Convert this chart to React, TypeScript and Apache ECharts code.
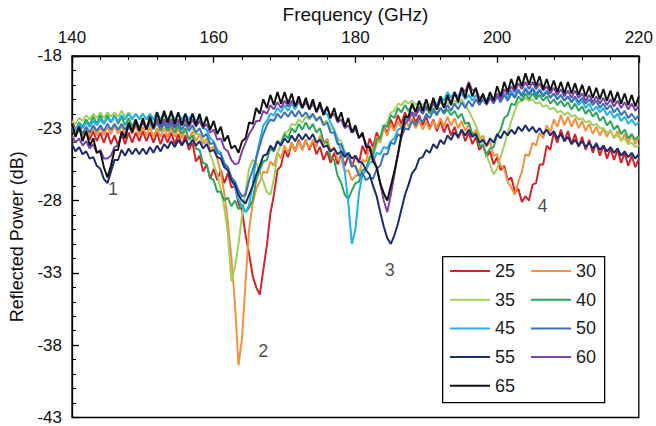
import React, { useEffect, useRef } from "react";
import * as echarts from "echarts";

// Sampling grid of the measured spectra (GHz)
const FREQ_START = 140;
const FREQ_STEP = 0.5;

// Reflected power (dB), one value per 0.5 GHz from 140 to 220 GHz
const S25 = [
  -22.4,-23.2,-22.7,-23.5,-23.0,-23.8,-23.2,-23.9,-23.3,-24.0,-23.3,-24.1,-23.5,-24.2,-23.4,-24.1,-23.3,-24.0,-23.3,-23.9,
  -23.2,-23.9,-23.3,-24.0,-23.3,-24.1,-23.4,-24.0,-23.3,-24.1,-23.4,-24.2,-23.5,-24.5,-24.0,-25.3,-24.9,-26.0,-25.5,-26.5,
  -25.8,-26.6,-25.9,-26.8,-26.1,-27.1,-27.0,-28.2,-28.7,-30.4,-31.7,-33.2,-34.0,-34.5,-32.8,-31.1,-28.9,-27.6,-25.9,-25.6,
  -24.5,-25.0,-24.0,-24.6,-23.8,-24.5,-23.8,-24.5,-23.9,-24.8,-24.3,-25.2,-24.6,-25.4,-24.7,-25.5,-24.8,-25.6,-24.9,-25.7,
  -24.9,-25.4,-24.2,-24.8,-23.7,-24.3,-23.3,-23.8,-22.8,-23.4,-22.4,-23.0,-22.1,-22.7,-21.9,-22.5,-21.9,-22.6,-22.1,-22.8,
  -22.2,-23.0,-22.4,-23.2,-22.5,-23.3,-22.7,-23.5,-22.9,-23.7,-23.1,-23.9,-23.3,-24.1,-23.6,-24.5,-24.1,-25.0,-24.6,-25.5,
  -25.0,-25.9,-25.6,-26.6,-26.4,-27.4,-27.2,-28.1,-27.7,-28.0,-26.9,-26.8,-25.5,-25.5,-24.2,-24.5,-23.3,-24.0,-23.1,-23.9,
  -23.2,-24.1,-23.4,-24.3,-23.6,-24.5,-23.8,-24.7,-24.0,-24.9,-24.2,-25.1,-24.4,-25.2,-24.5,-25.4,-24.7,-25.6,-24.9,-25.7,-25.1,
];
const S30 = [
  -22.9,-23.5,-23.0,-23.6,-23.0,-23.5,-22.9,-23.5,-22.9,-23.5,-22.9,-23.4,-22.8,-23.4,-22.8,-23.4,-22.8,-23.4,-22.8,-23.5,
  -22.9,-23.5,-22.9,-23.6,-23.0,-23.6,-23.0,-23.6,-23.0,-23.6,-23.0,-23.7,-23.1,-23.8,-23.2,-23.9,-23.4,-24.1,-23.7,-24.4,
  -24.3,-25.1,-26.1,-27.5,-29.5,-32.0,-35.1,-39.4,-37.5,-33.6,-30.0,-28.2,-27.2,-26.7,-26.0,-26.1,-25.3,-25.6,-24.7,-25.1,
  -24.2,-24.7,-24.0,-24.6,-23.9,-24.5,-23.8,-24.4,-23.8,-24.3,-23.5,-24.2,-23.7,-24.6,-24.3,-25.2,-25.1,-26.0,-25.9,-26.6,
  -26.3,-26.2,-25.2,-25.3,-24.2,-24.6,-23.6,-24.0,-23.0,-23.5,-22.7,-23.2,-22.5,-23.0,-22.3,-22.9,-22.3,-23.0,-22.5,-23.1,
  -22.6,-23.1,-22.5,-23.0,-22.3,-22.9,-22.2,-22.8,-22.3,-23.0,-22.5,-23.2,-22.7,-23.5,-23.1,-23.9,-23.5,-24.3,-23.9,-24.9,
  -24.8,-25.6,-25.8,-26.7,-27.1,-27.6,-26.7,-26.0,-24.8,-24.9,-24.0,-24.2,-23.3,-23.7,-22.8,-23.3,-22.4,-22.9,-22.1,-22.8,
  -22.2,-22.9,-22.3,-23.0,-22.5,-23.2,-22.7,-23.4,-22.9,-23.5,-23.0,-23.6,-23.1,-23.7,-23.2,-23.9,-23.4,-24.0,-23.5,-24.1,-23.6,
];
const S35 = [
  -22.5,-22.7,-22.3,-22.5,-22.1,-22.4,-22.0,-22.3,-21.9,-22.3,-21.9,-22.2,-21.9,-22.2,-21.8,-22.2,-21.9,-22.3,-22.0,-22.3,
  -22.0,-22.4,-22.1,-22.5,-22.2,-22.5,-22.2,-22.6,-22.3,-22.7,-22.4,-22.8,-22.6,-23.0,-23.0,-23.4,-23.4,-23.8,-24.0,-24.8,
  -25.5,-26.2,-27.2,-28.5,-30.3,-33.6,-32.6,-31.0,-29.0,-27.3,-25.8,-25.2,-25.4,-26.0,-26.7,-27.4,-27.6,-26.5,-24.8,-24.0,
  -23.3,-23.2,-22.7,-22.8,-22.4,-22.6,-22.2,-22.4,-22.1,-22.4,-22.2,-22.6,-22.5,-23.0,-23.1,-23.7,-23.9,-24.6,-24.9,-25.5,
  -25.7,-26.0,-25.9,-25.8,-25.2,-24.9,-24.1,-23.7,-22.9,-22.6,-21.9,-21.8,-21.3,-21.4,-21.1,-21.3,-21.1,-21.4,-21.2,-21.4,
  -21.2,-21.4,-21.2,-21.4,-21.2,-21.5,-21.2,-21.4,-21.1,-21.3,-21.0,-21.4,-21.8,-22.3,-22.8,-23.5,-24.2,-24.9,-25.5,-26.2,
  -25.8,-25.0,-24.2,-23.3,-22.5,-21.8,-21.2,-21.1,-20.9,-21.1,-21.0,-21.3,-21.2,-21.5,-21.4,-21.7,-21.6,-21.9,-21.8,-22.1,
  -21.9,-22.2,-22.1,-22.4,-22.3,-22.6,-22.5,-22.8,-22.7,-23.0,-23.0,-23.3,-23.2,-23.6,-23.5,-23.8,-23.7,-24.1,-24.0,-24.3,-24.2,
];
const S40 = [
  -22.8,-23.1,-22.6,-22.9,-22.4,-22.8,-22.2,-22.7,-22.1,-22.7,-22.1,-22.6,-22.1,-22.7,-22.2,-22.8,-22.3,-22.9,-22.4,-23.0,
  -22.5,-23.1,-22.6,-23.1,-22.6,-23.2,-22.7,-23.2,-22.8,-23.3,-22.8,-23.4,-23.0,-23.8,-23.5,-24.4,-24.5,-25.4,-25.5,-26.4,
  -26.6,-27.4,-27.4,-28.0,-27.8,-28.4,-28.0,-28.6,-28.3,-28.8,-28.5,-28.0,-26.6,-25.9,-25.3,-25.2,-24.4,-24.6,-23.9,-24.1,
  -23.4,-23.7,-23.0,-23.3,-22.7,-23.1,-22.6,-23.1,-22.7,-23.3,-23.0,-23.9,-24.0,-25.0,-25.2,-26.3,-26.8,-27.6,-27.9,-27.3,
  -26.8,-26.7,-25.9,-25.8,-25.0,-24.8,-23.8,-23.7,-22.8,-22.9,-22.1,-22.3,-21.6,-21.9,-21.4,-21.8,-21.4,-21.8,-21.5,-21.9,
  -21.6,-22.0,-21.6,-22.0,-21.6,-22.0,-21.7,-22.1,-21.8,-22.3,-22.0,-22.7,-22.6,-23.4,-23.4,-24.2,-24.2,-24.8,-24.4,-24.3,
  -23.5,-23.1,-22.3,-22.1,-21.3,-21.4,-20.8,-21.1,-20.6,-21.0,-20.6,-21.0,-20.7,-21.1,-20.8,-21.3,-21.0,-21.4,-21.1,-21.5,
  -21.2,-21.7,-21.3,-21.8,-21.5,-22.0,-21.7,-22.2,-21.9,-22.5,-22.2,-22.8,-22.5,-23.1,-22.8,-23.4,-23.1,-23.7,-23.4,-23.8,-23.5,
];
const S45 = [
  -22.8,-23.1,-22.7,-23.0,-22.6,-22.9,-22.5,-22.8,-22.4,-22.7,-22.3,-22.6,-22.2,-22.5,-22.1,-22.4,-22.0,-22.4,-22.0,-22.4,
  -22.0,-22.4,-22.0,-22.4,-21.9,-22.4,-22.0,-22.4,-22.0,-22.4,-22.0,-22.4,-22.0,-22.4,-22.0,-22.5,-22.3,-23.0,-23.1,-23.7,
  -23.9,-24.5,-24.7,-25.4,-25.7,-26.6,-27.1,-27.9,-28.4,-28.8,-28.3,-26.9,-25.0,-23.9,-22.8,-22.5,-22.0,-22.1,-21.6,-21.9,
  -21.4,-21.8,-21.3,-21.7,-21.2,-21.6,-21.2,-21.6,-21.3,-21.8,-21.5,-22.0,-22.0,-22.6,-23.1,-23.9,-24.6,-26.0,-28.2,-31.0,
  -30.0,-27.5,-26.2,-25.9,-25.4,-25.3,-24.7,-24.8,-24.3,-24.4,-23.9,-23.7,-23.1,-23.0,-22.4,-22.4,-21.9,-22.2,-21.7,-22.0,
  -21.4,-21.7,-21.1,-21.4,-20.8,-21.1,-20.5,-20.9,-20.5,-20.9,-20.6,-21.0,-20.7,-21.1,-20.7,-21.1,-20.7,-21.1,-20.7,-21.1,
  -20.7,-21.0,-20.6,-20.9,-20.4,-20.8,-20.3,-20.7,-20.2,-20.6,-20.2,-20.6,-20.3,-20.7,-20.4,-20.9,-20.6,-21.0,-20.7,-21.1,
  -20.8,-21.2,-20.9,-21.4,-21.1,-21.6,-21.3,-21.8,-21.5,-21.9,-21.6,-22.1,-21.8,-22.3,-22.0,-22.5,-22.2,-22.7,-22.4,-22.8,-22.6,
];
const S50 = [
  -23.1,-23.5,-23.0,-23.4,-22.9,-23.3,-22.8,-23.2,-22.8,-23.2,-22.7,-23.1,-22.7,-23.1,-22.7,-23.1,-22.7,-23.1,-22.6,-23.0,
  -22.6,-23.0,-22.6,-23.0,-22.6,-23.0,-22.6,-23.0,-22.6,-23.0,-22.6,-23.1,-22.7,-23.2,-22.8,-23.3,-23.0,-23.6,-23.4,-24.1,
  -24.0,-24.7,-24.8,-25.5,-25.7,-26.4,-26.7,-27.3,-27.7,-27.6,-26.6,-25.9,-25.1,-24.2,-23.4,-22.8,-22.4,-22.5,-22.0,-22.3,
  -21.9,-22.2,-21.8,-22.2,-21.8,-22.2,-21.9,-22.3,-22.0,-22.5,-22.2,-22.8,-22.6,-23.3,-23.3,-24.1,-24.1,-24.8,-24.8,-25.6,
  -25.6,-26.3,-26.1,-26.6,-26.4,-26.5,-25.8,-25.6,-24.8,-24.8,-24.0,-24.1,-23.4,-23.6,-23.0,-23.1,-22.5,-22.8,-22.3,-22.6,
  -22.0,-22.3,-21.8,-22.1,-21.6,-21.9,-21.4,-21.8,-21.3,-21.7,-21.2,-21.6,-21.1,-21.5,-21.0,-21.4,-21.0,-21.4,-20.9,-21.3,
  -20.8,-21.2,-20.7,-21.1,-20.6,-20.9,-20.4,-20.8,-20.3,-20.7,-20.3,-20.8,-20.4,-20.8,-20.5,-20.9,-20.6,-21.0,-20.7,-21.1,
  -20.8,-21.2,-20.8,-21.2,-20.9,-21.3,-21.0,-21.4,-21.1,-21.6,-21.3,-21.7,-21.4,-21.9,-21.6,-22.1,-21.8,-22.3,-22.0,-22.4,-22.1,
];
const S55 = [
  -24.1,-24.6,-24.3,-24.8,-24.6,-25.1,-25.0,-25.6,-25.8,-26.5,-26.8,-26.0,-25.2,-25.2,-24.5,-24.9,-24.4,-24.8,-24.4,-24.8,
  -24.4,-24.8,-24.3,-24.7,-24.2,-24.6,-24.1,-24.4,-23.9,-24.3,-23.8,-24.2,-23.8,-24.2,-23.8,-24.2,-23.9,-24.4,-24.1,-24.6,
  -24.5,-25.0,-25.1,-25.7,-25.9,-26.6,-26.9,-27.6,-28.0,-28.2,-27.6,-27.0,-26.2,-25.6,-24.9,-24.8,-24.2,-24.5,-23.9,-24.2,
  -23.7,-24.0,-23.5,-23.9,-23.4,-23.8,-23.4,-23.8,-23.4,-24.0,-23.8,-24.3,-24.2,-24.6,-24.4,-24.8,-24.6,-25.0,-24.7,-25.1,
  -24.9,-25.3,-25.4,-25.9,-26.2,-27.0,-27.7,-28.8,-29.8,-30.6,-31.0,-30.4,-29.6,-28.6,-27.6,-26.9,-26.1,-25.8,-25.1,-25.0,
  -24.5,-24.7,-24.1,-24.4,-23.8,-24.1,-23.5,-23.8,-23.3,-23.6,-23.1,-23.5,-23.1,-23.6,-23.4,-24.0,-23.8,-24.2,-23.7,-24.0,
  -23.4,-23.7,-23.2,-23.5,-23.1,-23.4,-22.9,-23.2,-22.8,-23.2,-22.9,-23.3,-23.0,-23.4,-23.1,-23.5,-23.2,-23.7,-23.4,-23.9,
  -23.6,-24.1,-23.8,-24.2,-23.9,-24.3,-24.0,-24.4,-24.1,-24.5,-24.2,-24.6,-24.3,-24.7,-24.4,-24.9,-24.6,-25.0,-24.7,-25.1,-24.8,
];
const S60 = [
  -23.5,-24.0,-23.7,-24.2,-23.9,-24.4,-24.1,-24.7,-24.5,-25.1,-25.1,-24.9,-24.3,-24.2,-23.4,-23.5,-22.9,-23.2,-22.7,-23.1,
  -22.6,-23.0,-22.5,-22.9,-22.4,-22.9,-22.4,-22.8,-22.4,-22.9,-22.4,-22.8,-22.4,-22.9,-22.4,-22.9,-22.5,-23.0,-22.7,-23.3,
  -23.1,-23.8,-23.7,-24.4,-24.6,-25.2,-25.5,-25.4,-24.6,-24.0,-23.4,-23.0,-22.5,-22.5,-21.8,-22.0,-21.4,-21.7,-21.2,-21.6,
  -21.1,-21.5,-21.1,-21.5,-21.1,-21.6,-21.2,-21.7,-21.3,-21.8,-21.4,-21.9,-21.6,-22.2,-22.0,-22.6,-22.4,-23.0,-22.8,-23.3,
  -23.1,-23.6,-23.5,-24.1,-24.3,-25.0,-25.7,-26.8,-28.0,-28.8,-27.6,-26.2,-24.8,-23.6,-22.7,-22.4,-21.9,-22.1,-21.6,-22.0,
  -21.5,-21.8,-21.3,-21.7,-21.1,-21.5,-20.9,-21.2,-20.6,-20.9,-20.2,-20.5,-19.8,-20.4,-20.3,-20.9,-20.8,-21.3,-20.9,-21.2,
  -20.6,-21.0,-20.3,-20.7,-20.1,-20.5,-19.9,-20.3,-19.8,-20.3,-19.8,-20.3,-19.9,-20.4,-20.1,-20.6,-20.2,-20.7,-20.3,-20.8,
  -20.4,-20.9,-20.4,-20.9,-20.6,-21.1,-20.7,-21.2,-20.8,-21.3,-20.9,-21.4,-21.0,-21.5,-21.1,-21.6,-21.2,-21.7,-21.3,-21.8,-21.4,
];
const S65 = [
  -22.7,-23.6,-22.9,-23.9,-23.2,-24.2,-23.7,-24.7,-24.6,-25.7,-26.4,-25.6,-24.5,-24.5,-23.2,-23.7,-22.6,-23.3,-22.4,-23.2,
  -22.3,-23.1,-22.2,-23.0,-21.9,-22.7,-21.8,-22.6,-21.8,-22.7,-21.9,-22.8,-22.0,-22.8,-22.0,-22.8,-22.0,-22.9,-22.2,-23.1,
  -22.5,-23.4,-22.9,-23.9,-23.5,-24.4,-24.2,-24.7,-23.9,-23.7,-22.6,-22.7,-21.6,-22.0,-21.0,-21.6,-20.7,-21.4,-20.5,-21.3,
  -20.5,-21.3,-20.6,-21.5,-20.8,-21.6,-20.9,-21.7,-21.0,-21.9,-21.2,-22.1,-21.5,-22.3,-21.6,-22.5,-21.9,-22.9,-22.3,-23.3,
  -22.8,-23.7,-23.3,-24.3,-24.3,-25.3,-25.7,-26.8,-27.5,-28.0,-27.0,-26.0,-24.8,-23.4,-22.2,-22.2,-21.3,-21.9,-21.1,-21.8,
  -21.0,-21.8,-20.9,-21.7,-20.8,-21.6,-20.7,-21.4,-20.5,-21.2,-20.2,-20.9,-19.9,-20.8,-20.2,-21.2,-20.6,-21.3,-20.5,-21.1,
  -20.1,-20.8,-19.8,-20.5,-19.6,-20.3,-19.4,-20.1,-19.2,-20.0,-19.2,-20.1,-19.4,-20.3,-19.6,-20.4,-19.7,-20.5,-19.8,-20.6,
  -19.8,-20.6,-19.9,-20.7,-20.0,-20.8,-20.1,-20.9,-20.2,-21.0,-20.3,-21.1,-20.4,-21.2,-20.5,-21.3,-20.6,-21.4,-20.7,-21.5,-20.8,
];

const SERIES_NAMES = ["25", "30", "35", "40", "45", "50", "55", "60", "65"];
const SERIES_COLORS = [
  "#d2232a", "#f4913d", "#9fd15c", "#2ca65a", "#22b2e6",
  "#3a72b8", "#1c2a6e", "#7a44a6", "#111111",
];

// Resonance labels (frequency GHz, power dB, text)
const ANNOT_FREQ = [145.8, 167.0, 184.85, 206.4];
const ANNOT_DB = [-27.2, -38.4, -32.8, -28.4];
const ANNOT_TEXT = ["1", "2", "3", "4"];

// Axis ranges
const X_MIN = 140, X_MAX = 220, X_STEP = 20;
const Y_MIN = -43, Y_MAX = -18, Y_STEP = 5;

const FONT = "'Liberation Sans', Arial, sans-serif";

export default function App() {
  const ref = useRef<HTMLDivElement>(null);

  useEffect(() => {
    document.body.style.margin = "0";
    const chart = echarts.init(ref.current!, undefined, { renderer: "svg" });
    const all = [S25, S30, S35, S40, S45, S50, S55, S60, S65];

    const lineSeries: any[] = all.map((vals, i) => ({
      name: SERIES_NAMES[i],
      type: "line",
      symbol: "none",
      showSymbol: false,
      data: vals.map((v, k) => [FREQ_START + k * FREQ_STEP, v]),
      lineStyle: { color: SERIES_COLORS[i], width: 2 },
      itemStyle: { color: SERIES_COLORS[i] },
      silent: true,
    }));

    lineSeries.push({
      name: "annotations",
      type: "scatter",
      symbol: "circle",
      symbolSize: 1,
      itemStyle: { color: "transparent" },
      silent: true,
      data: ANNOT_FREQ.map((f, i) => [f, ANNOT_DB[i], ANNOT_TEXT[i]]),
      label: {
        show: true,
        position: "inside",
        formatter: (p: any) => p.value[2],
        fontSize: 18,
        color: "#1a1a1a",
        fontFamily: FONT,
      },
    });

    const rows = [[0, 1], [2, 3], [4, 5], [6, 7], [8]];
    const legends = rows.map((row, r) => ({
      data: row.map((i) => ({ name: SERIES_NAMES[i], icon: "rect" })),
      orient: "horizontal",
      left: 450,
      top: 262 + r * 28.7,
      itemGap: 16,
      itemWidth: 40,
      itemHeight: 2,
      padding: 0,
      selectedMode: false,
      textStyle: { fontSize: 18, color: "#1a1a1a", fontFamily: FONT },
      z: 5,
    }));

    const axisLine = { show: true, lineStyle: { color: "#000", width: 1.3 } };

    chart.setOption({
      animation: false,
      backgroundColor: "#fff",
      grid: {
        left: 62,
        right: 16,
        top: 47,
        bottom: 5,
        show: true,
        borderColor: "#000",
        borderWidth: 1.3,
        backgroundColor: "transparent",
      },
      graphic: [
        {
          type: "rect",
          left: 442,
          top: 256,
          shape: { width: 162, height: 146 },
          style: { fill: "#fff", stroke: "#000", lineWidth: 1.3 },
          z: 3,
        },
      ],
      legend: legends,
      xAxis: {
        type: "value",
        position: "top",
        min: X_MIN,
        max: X_MAX,
        interval: X_STEP,
        axisLine,
        axisTick: { show: true, inside: true, length: 7, lineStyle: { color: "#000", width: 1.3 } },
        minorTick: { show: true, splitNumber: 5, length: 4, lineStyle: { color: "#000", width: 1 } },
        splitLine: { show: false },
        minorSplitLine: { show: false },
        axisLabel: { fontSize: 17, color: "#111", margin: 10, fontFamily: FONT },
        name: "Frequency (GHz)",
        nameLocation: "middle",
        nameGap: 30,
        nameTextStyle: { fontSize: 19, color: "#111", fontFamily: FONT },
      },
      yAxis: {
        type: "value",
        min: Y_MIN,
        max: Y_MAX,
        interval: Y_STEP,
        axisLine,
        axisTick: { show: true, inside: true, length: 7, lineStyle: { color: "#000", width: 1.3 } },
        minorTick: { show: true, splitNumber: 5, length: 4, lineStyle: { color: "#000", width: 1 } },
        splitLine: { show: false },
        minorSplitLine: { show: false },
        axisLabel: { fontSize: 17, color: "#111", margin: 10, fontFamily: FONT },
        name: "Reflected Power (dB)",
        nameLocation: "middle",
        nameRotate: 90,
        nameGap: 46,
        nameTextStyle: { fontSize: 18, color: "#111", fontFamily: FONT },
      },
      series: lineSeries,
    });

    return () => chart.dispose();
  }, []);

  return <div ref={ref} style={{ width: 656, height: 426 }} />;
}
